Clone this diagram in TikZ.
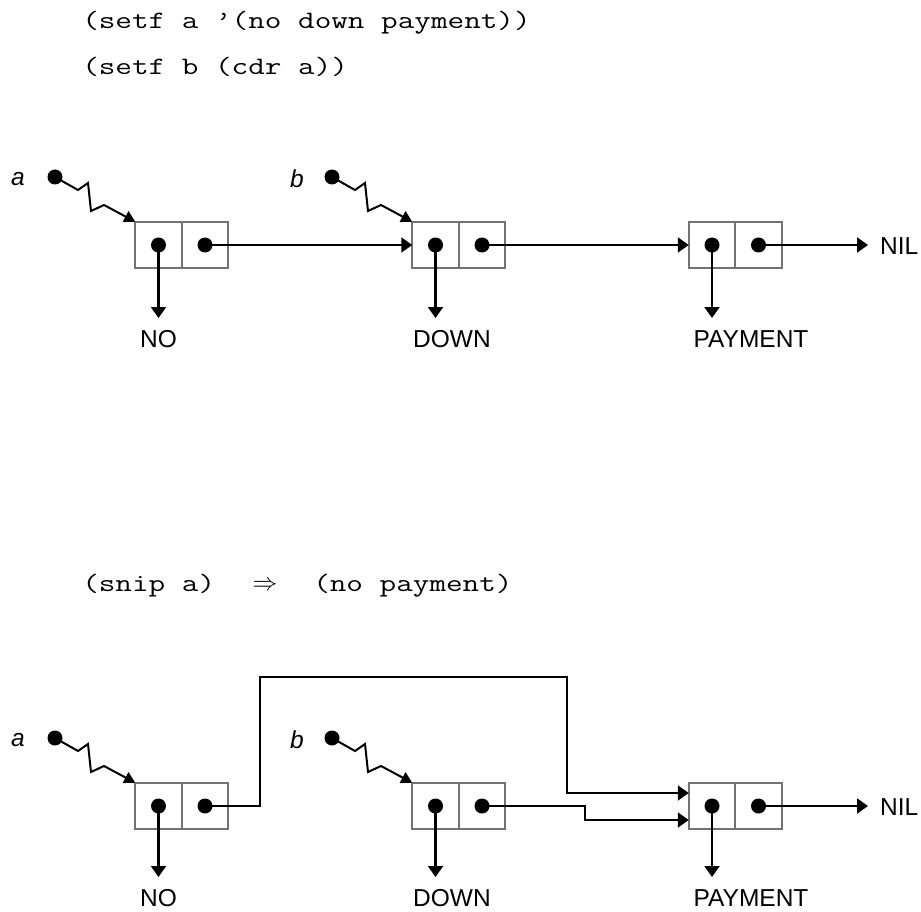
\documentclass[tikz,border=0pt]{standalone}
\usepackage{fontspec}
\setmainfont{Liberation Sans}
\usetikzlibrary{arrows.meta,calc}
\begin{document}
\begin{tikzpicture}[x=1pt,y=-1pt,
  cellbox/.style={draw=black!55, line width=1.7pt, fill=white, minimum width=46.5pt, minimum height=46.5pt, inner sep=0pt, outer sep=0pt},
  ptr/.style={circle, fill=black, inner sep=0pt, minimum size=15pt},
  conn/.style={line width=2.1pt, -{Triangle[length=11pt,width=15pt]}},
  zz/.style={line width=2pt, line join=miter, -{Triangle[length=11pt,width=12pt]}},
  lbl/.style={font=\fontsize{24.5}{28}\selectfont, inner sep=0pt},
  var/.style={font=\fontsize{24.5}{28}\selectfont\itshape, inner sep=0pt},
  code/.style={font=\fontsize{25}{30}\selectfont\ttfamily, inner sep=0pt, anchor=west, xscale=1.29}
]
\useasboundingbox (0,0) rectangle (921,912);

% code lines
\node[code] (l1) at (82,23) {(setf a ’(no down payment))};
\node[code] (l2) at (82,67) {(setf b (cdr a))};
\node[code] (l3a) at (82,586) {(snip a)};
\node[font=\fontsize{28}{30}\selectfont, inner sep=0pt] (l3b) at (265,586) {$\Rightarrow$};
\node[code] (l3c) at (313,586) {(no payment)};

% cons cells
\foreach \r/\yy in {T/245, B/806} {
  \node[cellbox] (c1a\r) at (158.5,\yy) {};
  \node[cellbox] (c1b\r) at (205,\yy) {};
  \node[cellbox] (c2a\r) at (435.5,\yy) {};
  \node[cellbox] (c2b\r) at (482,\yy) {};
  \node[cellbox] (c3a\r) at (712,\yy) {};
  \node[cellbox] (c3b\r) at (758.5,\yy) {};
}

\foreach \r/\yy/\ly in {T/177/330, B/738/889} {
  \node[var] (la\r) at (18,\yy+2) {a};
  \node[var] (lb\r) at (297,\yy+2) {b};
  \node[ptr] (pa\r) at (55,\yy) {};
  \node[ptr] (pb\r) at (332,\yy) {};
  \node[lbl, anchor=north] (no\r) at (158.5,\ly) {NO};
  \node[lbl, anchor=north] (down\r) at (452,\ly) {DOWN};
  \node[lbl, anchor=north] (pay\r) at (751,\ly) {PAYMENT};
  \node[lbl, anchor=west] (nil\r) at (880,\yy+69) {NIL};
}

% zigzag pointers
\foreach \r in {T,B} {
  \draw[zz] (pa\r.center) -- ++(23,13) -- ++(10,-7) -- ++(3,28) -- ++(13,-6) -- (c1a\r.north west);
  \draw[zz] (pb\r.center) -- ++(23,13) -- ++(10,-7) -- ++(3,28) -- ++(13,-6) -- (c2a\r.north west);
}

% dots in cells and car / nil pointers
\foreach \r in {T,B} {
  \node[ptr] (d1a\r) at (c1a\r) {};
  \node[ptr] (d1b\r) at (c1b\r) {};
  \node[ptr] (d2a\r) at (c2a\r) {};
  \node[ptr] (d2b\r) at (c2b\r) {};
  \node[ptr] (d3a\r) at (c3a\r) {};
  \node[ptr] (d3b\r) at (c3b\r) {};
  \draw[conn, shorten >=12pt] (d1a\r.center) -- (d1a\r.center |- no\r.north);
  \draw[conn, shorten >=12pt] (d2a\r.center) -- (d2a\r.center |- down\r.north);
  \draw[conn, shorten >=12pt] (d3a\r.center) -- (d3a\r.center |- pay\r.north);
  \draw[conn, shorten >=12pt] (d3b\r.center) -- (d3b\r.center -| nil\r.west);
}

% top cdr links
\draw[conn] (d1bT.center) -- (c2aT.west);
\draw[conn] (d2bT.center) -- (c3aT.west);

% bottom (after snip)
\draw[conn] (d1bB.center) -- (260,806) -- (260,677) -- (567,677) -- (567,793) -- ([yshift=13pt]c3aB.west);
\draw[conn] (d2bB.center) -- (585,806) -- (585,820) -- ([yshift=-14pt]c3aB.west);
\end{tikzpicture}
\end{document}
